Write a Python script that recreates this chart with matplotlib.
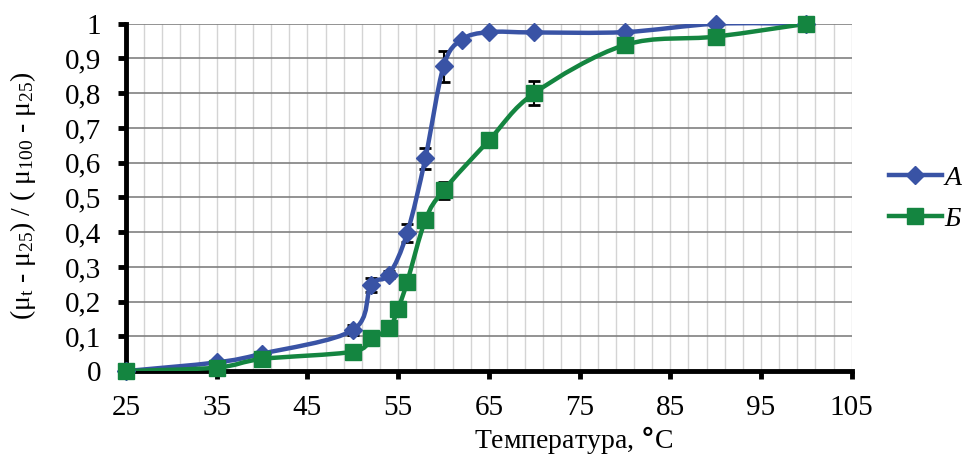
#!/usr/bin/env python3

import numpy as np
import matplotlib
matplotlib.use("Agg")
import matplotlib.pyplot as plt
from matplotlib.path import Path
from matplotlib.patches import PathPatch
from matplotlib.lines import Line2D
from matplotlib.ticker import FuncFormatter, MultipleLocator

plt.rcParams['font.family'] = ['Liberation Serif', 'DejaVu Serif']
plt.rcParams['mathtext.fontset'] = 'custom'
plt.rcParams['mathtext.rm'] = 'Liberation Serif'
plt.rcParams['mathtext.it'] = 'Liberation Serif:italic'

# temperature, C
tA = [25, 35, 40, 50, 52, 54, 56, 58, 60, 62, 65, 70, 80, 90, 100]
yA = [0, 0.025, 0.05, 0.118, 0.248, 0.278, 0.398, 0.613, 0.877, 0.954, 0.976, 0.975, 0.976, 1.0, 1.0]
eA = [0, 0, 0, 0.015, 0.02, 0.01, 0.025, 0.03, 0.045, 0, 0, 0, 0, 0, 0]

tB = [25, 35, 40, 50, 52, 54, 55, 56, 58, 60, 65, 70, 80, 90, 100]
yB = [0, 0.01, 0.035, 0.056, 0.094, 0.123, 0.18, 0.257, 0.435, 0.52, 0.664, 0.80, 0.939, 0.963, 1.0]
eB = [0, 0, 0, 0, 0, 0, 0, 0, 0.015, 0.025, 0, 0.035, 0, 0, 0]

names = ["А", "Б"]
colA = "#3953a5"
colB = "#148540"


def smooth_path(x, y):
    # excel-style smoothed line, bezier through the points
    p = np.column_stack([x, y]).astype(float)
    n = len(p)
    verts = [p[0]]
    codes = [Path.MOVETO]
    for i in range(n - 1):
        p0 = p[i - 1] if i > 0 else p[i]
        p1 = p[i]
        p2 = p[i + 1]
        p3 = p[i + 2] if i + 2 < n else p[i + 1]
        c1 = p1 + (p2 - p0) / 6.0
        c2 = p2 - (p3 - p1) / 6.0
        verts += [c1, c2, p2]
        codes += [Path.CURVE4] * 3
    return Path(verts, codes)


def fmt(v, pos):
    s = ("%.1f" % v).replace(".", ",")
    if s == "0,0":
        return "0"
    if s == "1,0":
        return "1"
    return s


fig = plt.figure(figsize=(9.65, 4.57), dpi=100)
ax = fig.add_axes([0.1306, 0.188, 0.752, 0.760])

ax.set_xlim(25, 105)
ax.set_ylim(0, 1)

ax.set_xticks(np.arange(25, 106, 10))
ax.set_xticks(np.arange(25, 106, 2), minor=True)
ax.yaxis.set_major_locator(MultipleLocator(0.1))
ax.yaxis.set_major_formatter(FuncFormatter(fmt))

ax.grid(which='minor', axis='x', color='#d4d4d4', lw=1.0)
ax.grid(which='major', axis='x', color='#d4d4d4', lw=1.0)
ax.grid(which='major', axis='y', color='#808080', lw=1.2)
ax.set_axisbelow(True)

for s in ['top', 'right']:
    ax.spines[s].set_visible(False)
for s in ['left', 'bottom']:
    ax.spines[s].set_linewidth(3.5)
    ax.spines[s].set_color('black')

ax.tick_params(axis='both', which='major', direction='out', length=6, width=3.5, labelsize=21)
ax.tick_params(axis='y', which='major', pad=12)
ax.tick_params(axis='x', which='major', pad=11)
ax.tick_params(axis='x', which='minor', length=0)

for t, y, e, c, mk, ms in [(tA, yA, eA, colA, 'D', 9.5), (tB, yB, eB, colB, 's', 11.5)]:
    ax.add_patch(PathPatch(smooth_path(t, y), facecolor='none', edgecolor=c, lw=3.2, zorder=3, capstyle='round'))
    te = [t[i] for i in range(len(t)) if e[i] > 0]
    ye = [y[i] for i in range(len(t)) if e[i] > 0]
    ee = [e[i] for i in range(len(t)) if e[i] > 0]
    ax.errorbar(te, ye, yerr=ee, fmt='none', ecolor='black', elinewidth=1.5, capsize=4, capthick=2, zorder=2)
    ax.plot(t, y, linestyle='none', marker=mk, markersize=ms, color=c, zorder=4, clip_on=False)

ax.set_xlabel("Температура, $\\mathbf{°}$С", fontsize=20)
ax.xaxis.set_label_coords(0.616, -0.152)
ax.set_ylabel("(μ$_\\mathrm{t}$ - μ$_\\mathrm{25}$) / ( μ$_\\mathrm{100}$ - μ$_\\mathrm{25}$)", fontsize=20)
ax.yaxis.set_label_coords(-0.121, 0.504)

handles = [Line2D([], [], color=colA, lw=3.2, marker='D', markersize=9.5),
           Line2D([], [], color=colB, lw=3.2, marker='s', markersize=11)]
leg = fig.legend(handles, names, loc='center left', bbox_to_anchor=(0.921, 0.565), frameon=False,
                 prop={'family': 'Liberation Serif', 'style': 'italic', 'size': 20},
                 handlelength=1.9, handletextpad=0.1, labelspacing=0.55, borderaxespad=0,
                 borderpad=0)

fig.savefig("out.png", dpi=100)
